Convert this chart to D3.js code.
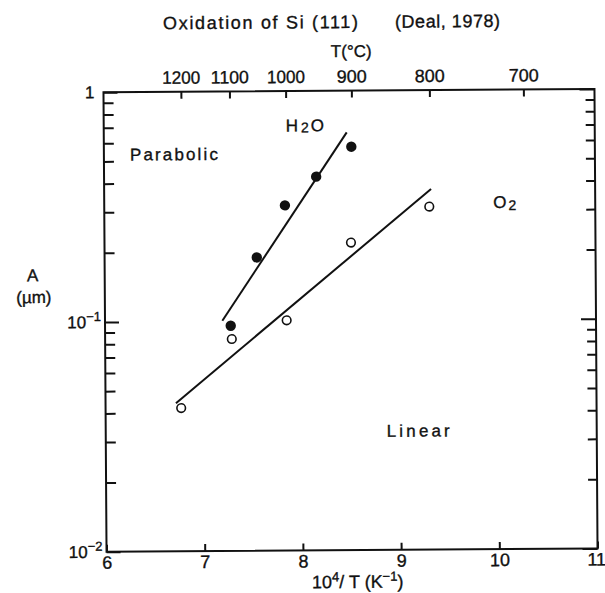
<!DOCTYPE html>
<html>
<head>
<meta charset="utf-8">
<script src="https://cdn.jsdelivr.net/npm/d3@7"></script>
<style>
  html, body { margin: 0; padding: 0; background: #fff; }
  svg { display: block; }
  text { font-family: "Liberation Sans", Arial, sans-serif; fill: #111; stroke: #111; stroke-width: 0.35px; }
</style>
</head>
<body>
<svg id="chart" width="605" height="593"></svg>
<script>
// ---------------- data ----------------
const xTickValues = [6, 7, 8, 9, 10, 11];
const topTempsC = [1200, 1100, 1000, 900, 800, 700];
const yMajorValues = [0.01, 0.1, 1];
const yMinorValues = [0.02, 0.03, 0.04, 0.05, 0.06, 0.07, 0.08, 0.09,
                      0.2, 0.3, 0.4, 0.5, 0.6, 0.7, 0.8, 0.9];
const yLabelExp = ["-2", "-1", ""];

// H2O (filled circles)
const h2oX = [7.28, 7.55, 7.84, 8.16, 8.52];
const h2oA = [0.0955, 0.189, 0.318, 0.423, 0.570];
// O2 (open circles)
const o2X = [6.77, 7.29, 7.85, 8.51, 9.31];
const o2A = [0.0420, 0.0836, 0.1005, 0.218, 0.311];
// fitted lines
const h2oFitX = [7.195, 8.474];
const h2oFitA = [0.1005, 0.658];
const o2FitX = [6.717, 9.329];
const o2FitA = [0.0441, 0.371];

// ---------------- layout ----------------
const L = 105, R = 596, T = 90.6, B = 550.1;
const svg = d3.select("#chart");
const root = svg.append("g").attr("transform", "rotate(-0.38, 350.5, 320.3)");

const x = d3.scaleLinear().domain([6, 11]).range([L, R]);
const y = d3.scaleLog().domain([0.01, 1]).range([B, T]);
const toInvK = c => 1e4 / (c + 273.15);

// frame
root.append("rect")
  .attr("x", L).attr("y", T).attr("width", R - L).attr("height", B - T)
  .attr("fill", "none").attr("stroke", "#111").attr("stroke-width", 2);

function styleAxis(g) {
  g.select(".domain").remove();
  g.selectAll(".tick line").attr("stroke", "#111").attr("stroke-width", 2);
}

// bottom axis
const gBottom = root.append("g").attr("transform", `translate(0,${B})`)
  .call(d3.axisBottom(x).tickValues(xTickValues).tickSizeInner(-7).tickSizeOuter(0)
        .tickPadding(0).tickFormat(d3.format("d")));
styleAxis(gBottom);
gBottom.selectAll(".tick text").attr("y", 17).attr("dy", 0)
  .attr("font-size", 18).attr("fill", "#111").attr("font-family", "Liberation Sans, Arial, sans-serif")
  .attr("text-anchor", d => d === 11 ? "end" : "middle")
  .attr("x", d => d === 11 ? 8 : 0);

// top axis (temperature)
const gTop = root.append("g").attr("transform", `translate(0,${T})`)
  .call(d3.axisTop(x).tickValues(topTempsC.map(toInvK)).tickSizeInner(-7).tickSizeOuter(0)
        .tickPadding(0).tickFormat((d, i) => topTempsC[i]));
styleAxis(gTop);
gTop.selectAll(".tick text").attr("y", -8).attr("dy", 0)
  .attr("font-size", 18).attr("fill", "#111").attr("font-family", "Liberation Sans, Arial, sans-serif")
  .attr("textLength", (d, i) => String(topTempsC[i]).length === 4 ? 38 : 30)
  .attr("lengthAdjust", "spacingAndGlyphs");

// left axis minor / major
const gLeftMinor = root.append("g").attr("transform", `translate(${L},0)`)
  .call(d3.axisLeft(y).tickValues(yMinorValues).tickSizeInner(-10).tickSizeOuter(0).tickFormat(""));
styleAxis(gLeftMinor);
const gLeftMajor = root.append("g").attr("transform", `translate(${L},0)`)
  .call(d3.axisLeft(y).tickValues(yMajorValues).tickSizeInner(-14).tickSizeOuter(0).tickFormat(""));
styleAxis(gLeftMajor);
// right axis minor / major
const gRightMinor = root.append("g").attr("transform", `translate(${R},0)`)
  .call(d3.axisRight(y).tickValues(yMinorValues).tickSizeInner(-9).tickSizeOuter(0).tickFormat(""));
styleAxis(gRightMinor);
const gRightMajor = root.append("g").attr("transform", `translate(${R},0)`)
  .call(d3.axisRight(y).tickValues(yMajorValues).tickSizeInner(-15).tickSizeOuter(0).tickFormat(""));
styleAxis(gRightMajor);

// left tick labels
yMajorValues.forEach((v, i) => {
  const t = root.append("text")
    .attr("x", 101).attr("y", y(v) + 6)
    .attr("text-anchor", "end").attr("font-size", 17);
  if (yLabelExp[i] === "") {
    t.attr("x", 96).text("1");
  } else {
    t.append("tspan").text("10");
    t.append("tspan").attr("font-size", 13).attr("dy", -7).text(yLabelExp[i].replace("-", "\u2212"));
  }
});

// y axis title
root.append("text").attr("x", 33).attr("y", 279).attr("text-anchor", "middle")
  .attr("font-size", 17).text("A");
root.append("text").attr("x", 34).attr("y", 301).attr("text-anchor", "middle")
  .attr("font-size", 17).text("(\u00b5m)");

// x axis title
const xt = root.append("text").attr("x", 356).attr("y", 588).attr("text-anchor", "middle")
  .attr("font-size", 18);
xt.append("tspan").text("10");
xt.append("tspan").attr("font-size", 13).attr("dy", -7).text("4");
xt.append("tspan").attr("dy", 7).text("/ T (K");
xt.append("tspan").attr("font-size", 13).attr("dy", -7).text("\u22121");
xt.append("tspan").attr("dy", 7).text(")");

// top titles
root.append("text").attr("x", 165).attr("y", 28).attr("font-size", 18)
  .attr("textLength", 195).attr("lengthAdjust", "spacing").text("Oxidation of Si (111)");
root.append("text").attr("x", 397).attr("y", 28).attr("font-size", 18)
  .attr("textLength", 105).attr("lengthAdjust", "spacing").text("(Deal, 1978)");
root.append("text").attr("x", 353).attr("y", 57).attr("text-anchor", "middle").attr("font-size", 17)
  .text("T(\u00b0C)");

// in-plot labels
root.append("text").attr("x", 131).attr("y", 159).attr("font-size", 17)
  .attr("textLength", 88).attr("lengthAdjust", "spacing").text("Parabolic");
root.append("text").attr("x", 386).attr("y", 437).attr("font-size", 17)
  .attr("textLength", 63).attr("lengthAdjust", "spacing").text("Linear");
const h2oLab = root.append("text").attr("x", 287).attr("y", 131).attr("font-size", 17);
h2oLab.append("tspan").text("H");
h2oLab.append("tspan").attr("dx", 3).attr("font-size", 14).attr("dy", 1).text("2");
h2oLab.append("tspan").attr("dx", 2).attr("dy", -1).text("O");
const o2Lab = root.append("text").attr("x", 494).attr("y", 209).attr("font-size", 17);
o2Lab.append("tspan").text("O");
o2Lab.append("tspan").attr("dx", 2).attr("font-size", 14).attr("dy", 2).text("2");

// fit lines
const line = d3.line().x(d => x(d[0])).y(d => y(d[1]));
root.append("path").datum(d3.zip(h2oFitX, h2oFitA)).attr("d", line)
  .attr("fill", "none").attr("stroke", "#111").attr("stroke-width", 2);
root.append("path").datum(d3.zip(o2FitX, o2FitA)).attr("d", line)
  .attr("fill", "none").attr("stroke", "#111").attr("stroke-width", 2);

// points
root.append("g").selectAll("circle").data(d3.zip(h2oX, h2oA)).join("circle")
  .attr("cx", d => x(d[0])).attr("cy", d => y(d[1])).attr("r", 5.2)
  .attr("fill", "#111");
root.append("g").selectAll("circle").data(d3.zip(o2X, o2A)).join("circle")
  .attr("cx", d => x(d[0])).attr("cy", d => y(d[1])).attr("r", 4.3)
  .attr("fill", "#fff").attr("stroke", "#111").attr("stroke-width", 1.6);
</script>
</body>
</html>
